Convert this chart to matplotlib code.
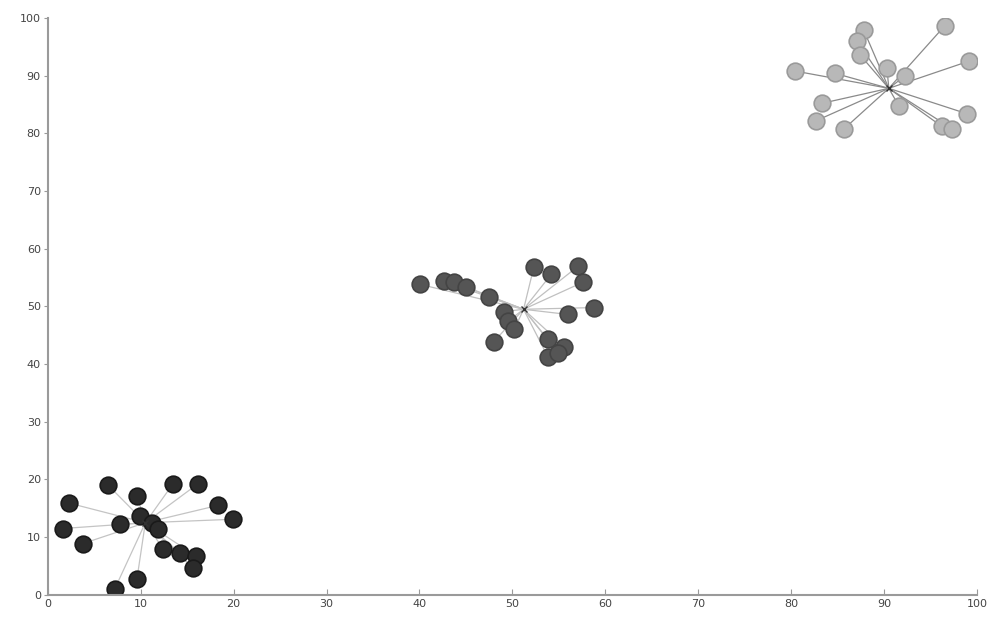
import matplotlib.pyplot as plt
import numpy as np

# cluster 1 (dark)
c1_x = [2.3, 1.6, 3.8, 6.5, 9.6, 7.8, 9.9, 11.2, 11.9, 13.5, 16.2, 18.3, 19.9, 12.4, 14.2, 15.9, 15.6, 9.6, 7.2]
c1_y = [15.9, 11.5, 8.9, 19.0, 17.2, 12.2, 13.6, 12.5, 11.5, 19.3, 19.3, 15.5, 13.1, 8.0, 7.3, 6.8, 4.7, 2.8, 1.0]
c1_center = (10.5, 12.5)

# cluster 2 (medium)
c2_x = [40.1, 42.6, 43.7, 45.0, 47.5, 49.1, 49.5, 50.2, 48.0, 52.3, 54.2, 57.1, 57.6, 56.0, 58.8, 53.8, 55.6, 53.8, 54.9]
c2_y = [53.8, 54.4, 54.2, 53.3, 51.6, 49.1, 47.4, 46.0, 43.9, 56.8, 55.6, 57.0, 54.2, 48.6, 49.8, 44.3, 43.0, 41.3, 42.0]
c2_center = (51.2, 49.5)

# cluster 3 (light)
c3_x = [80.4, 84.7, 87.8, 87.1, 87.4, 90.3, 92.2, 96.5, 99.1, 83.3, 82.7, 85.7, 91.6, 98.9, 96.2, 97.3]
c3_y = [90.8, 90.4, 97.9, 96.0, 93.6, 91.3, 89.9, 98.6, 92.5, 85.2, 82.2, 80.8, 84.7, 83.4, 81.2, 80.8]
c3_center = (90.5, 87.8)

ticks = [0, 10, 20, 30, 40, 50, 60, 70, 80, 90, 100]

clusters = [
    (c1_x, c1_y, c1_center, '#2b2b2b', '#1a1a1a', '#c4c4c4'),
    (c2_x, c2_y, c2_center, '#555555', '#444444', '#c0c0c0'),
    (c3_x, c3_y, c3_center, '#b8b8b8', '#9a9a9a', '#8a8a8a'),
]

fig = plt.figure(figsize=(9.95, 6.19), dpi=100)
ax = fig.add_axes([0.048, 0.039, 0.934, 0.932])

for xs, ys, (cx, cy), fill, edge, lc in clusters:
    for x, y in zip(xs, ys):
        ax.plot([cx, x], [cy, y], color=lc, lw=0.9, zorder=1)
    ax.plot(xs, ys, 'o', ms=12, mfc=fill, mec=edge, mew=1.2, zorder=2)
    ax.plot(cx, cy, 'x', ms=5, color='#333333', mew=1.0, zorder=3)

ax.set_xlim(0, 100)
ax.set_ylim(0, 100)
ax.set_xticks(ticks)
ax.set_yticks(ticks)
ax.spines['top'].set_visible(False)
ax.spines['right'].set_visible(False)
for s in ['left', 'bottom']:
    ax.spines[s].set_color('#9a9a9a')
    ax.spines[s].set_linewidth(1.5)
ax.tick_params(axis='x', direction='in', length=4, color='#9a9a9a', labelsize=8, labelcolor='#444444', pad=3)
ax.tick_params(axis='y', direction='out', length=3, color='#9a9a9a', labelsize=8, labelcolor='#444444', pad=2)

fig.savefig('out.png', dpi=100)
